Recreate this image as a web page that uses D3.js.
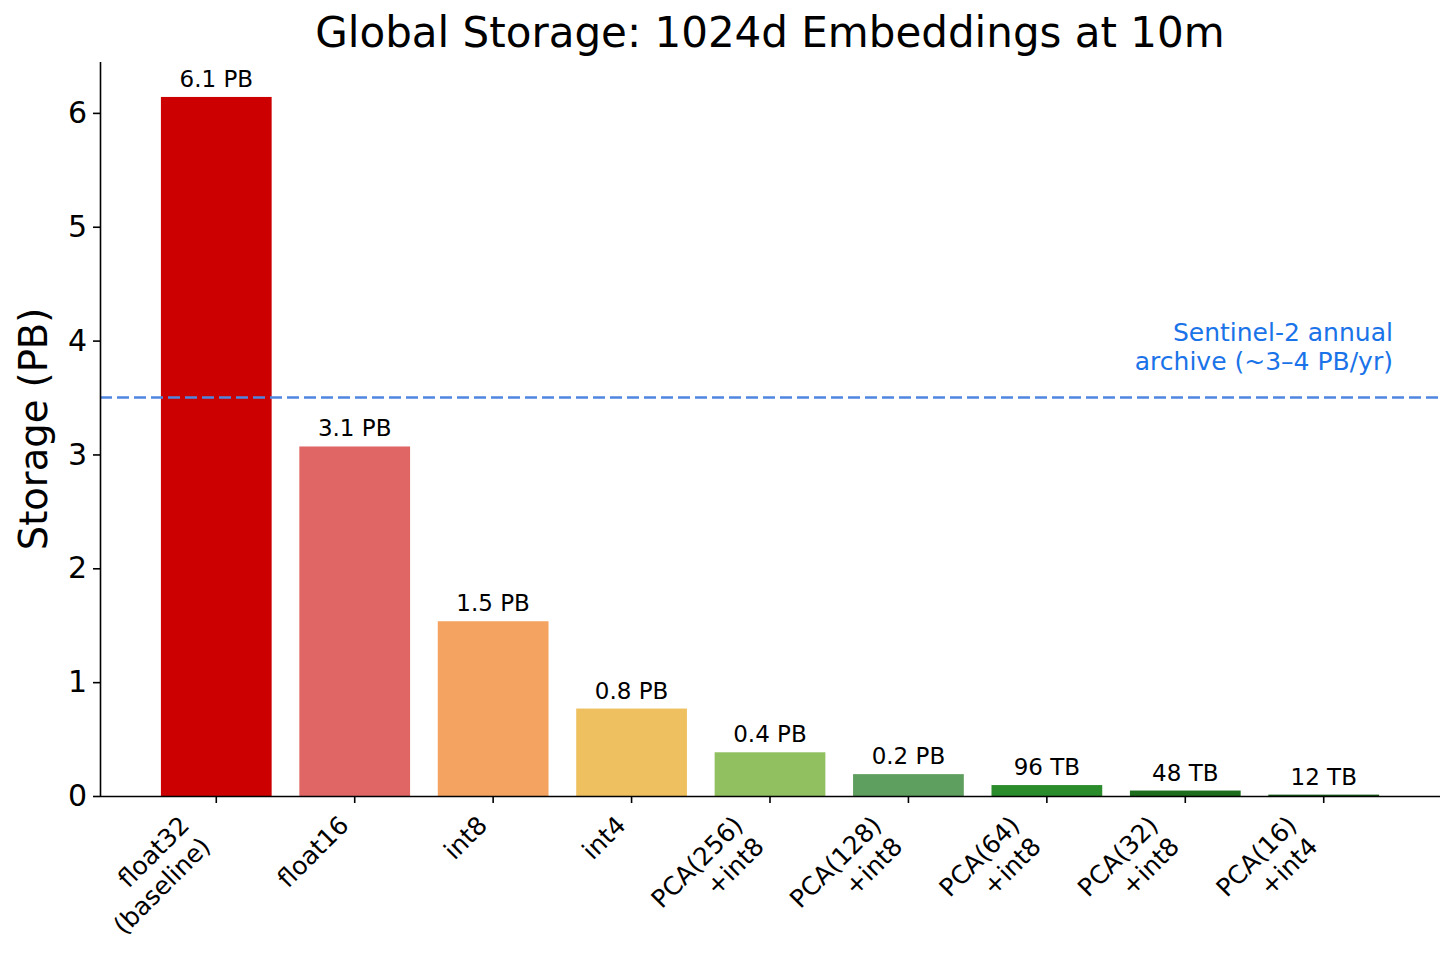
<!DOCTYPE html>
<html><head><meta charset="utf-8">
<script src="https://cdn.jsdelivr.net/npm/d3@7"></script>
<style>
html,body{margin:0;padding:0;background:#fff;}
text{font-family:"DejaVu Sans",sans-serif;}
</style></head>
<body><svg id="chart" width="1456" height="956"></svg>
<script>
const categories = ["float32\n(baseline)","float16","int8","int4","PCA(256)\n+int8","PCA(128)\n+int8","PCA(64)\n+int8","PCA(32)\n+int8","PCA(16)\n+int4"];
const storagePB = [6.14, 3.07, 1.535, 0.768, 0.384, 0.192, 0.096, 0.048, 0.012];
const valueLabels = ["6.1 PB","3.1 PB","1.5 PB","0.8 PB","0.4 PB","0.2 PB","96 TB","48 TB","12 TB"];
const barColors = ["#cc0000","#e06666","#f4a460","#efc060","#90c05f","#5e9e5e","#2a8c2a","#1e6e1e","#165916"];
const yTicks = [0,1,2,3,4,5,6];
const sentinelPB = 3.5;
const sentinelLabel = ["Sentinel-2 annual","archive (~3–4 PB/yr)"];
const title = "Global Storage: 1024d Embeddings at 10m";
const yLabel = "Storage (PB)";

const svg = d3.select("#chart");
const L = 100, R = 1440, T = 62, B = 796;

const x = d3.scaleBand().domain(d3.range(categories.length)).range([L, R]).paddingInner(0.2).paddingOuter(0.44);
const y = d3.scaleLinear().domain([0, 6.447]).range([B, T]);

// bars
svg.append("g").selectAll("rect").data(storagePB).join("rect")
  .attr("x", (d,i) => x(i))
  .attr("width", x.bandwidth())
  .attr("y", d => y(d))
  .attr("height", d => y(0) - y(d))
  .attr("fill", (d,i) => barColors[i]);

// value labels
svg.append("g").selectAll("text").data(storagePB).join("text")
  .attr("x", (d,i) => x(i) + x.bandwidth()/2)
  .attr("y", d => y(d) - 10)
  .attr("text-anchor", "middle")
  .attr("font-size", 23)
  .attr("fill", "#000")
  .text((d,i) => valueLabels[i]);

// sentinel line
svg.append("line")
  .attr("x1", L).attr("x2", R)
  .attr("y1", y(sentinelPB)).attr("y2", y(sentinelPB))
  .attr("stroke", "#4f86e0").attr("stroke-width", 2.5)
  .attr("stroke-dasharray", "12,5");
const sentX = x(8) + x.bandwidth()/2 + x.step()*0.5;
const sg = svg.append("g");
sentinelLabel.forEach((s, i) => {
  sg.append("text")
    .attr("text-anchor", "end")
    .attr("font-size", 25)
    .attr("fill", "#1a73e8")
    .attr("x", sentX).attr("y", 341 + i*29).text(s);
});

// y axis
const yAxis = d3.axisLeft(y).tickValues(yTicks).tickFormat(d3.format("d")).tickSize(7).tickPadding(6);
const gy = svg.append("g").attr("transform", `translate(${L},0)`).call(yAxis);
gy.select(".domain").attr("d", `M0.5,${T}V${B}`).attr("stroke", "#000").attr("stroke-width", 1.6);
gy.selectAll(".tick line").attr("stroke", "#000").attr("stroke-width", 1.6);
gy.selectAll(".tick text").attr("font-size", 30).attr("font-family", "DejaVu Sans").attr("fill", "#000");

// x axis
const xAxis = d3.axisBottom(x).tickSize(7).tickFormat("");
const gx = svg.append("g").attr("transform", `translate(0,${B})`).call(xAxis);
gx.select(".domain").attr("d", `M${L},0.5H${R}`).attr("stroke", "#000").attr("stroke-width", 1.6);
gx.selectAll(".tick line").attr("stroke", "#000").attr("stroke-width", 1.6);

// x tick labels rotated 45, right-aligned bounding box, right-aligned lines
const fs = 25, lh = fs * 1.2;
categories.forEach((c, i) => {
  const lines = c.split("\n");
  const g = svg.append("g");
  const t = g.append("text").attr("font-size", fs).attr("text-anchor", "end").attr("fill", "#000");
  lines.forEach((ln, k) => {
    t.append("tspan").attr("y", (k - (lines.length-1)/2) * lh + fs*0.35).text(ln);
  });
  let W = 0;
  t.selectAll("tspan").each(function(){ W = Math.max(W, this.getComputedTextLength()); });
  t.selectAll("tspan").attr("x", W/2);
  const H = lines.length * lh;
  const half = (W + H) / 2 * Math.SQRT1_2;
  const cx = x(i) + x.bandwidth()/2 - half;
  const cy = B + 7 + 7 + half;
  g.attr("transform", `translate(${cx},${cy}) rotate(-45)`);
});

// title
svg.append("text")
  .attr("x", (L + R)/2).attr("y", 47)
  .attr("text-anchor", "middle").attr("font-size", 42).attr("fill", "#000")
  .text(title);

// y label
svg.append("text")
  .attr("transform", `translate(47,${(T+B)/2}) rotate(-90)`)
  .attr("text-anchor", "middle").attr("font-size", 38.5).attr("fill", "#000")
  .text(yLabel);
</script></body></html>
